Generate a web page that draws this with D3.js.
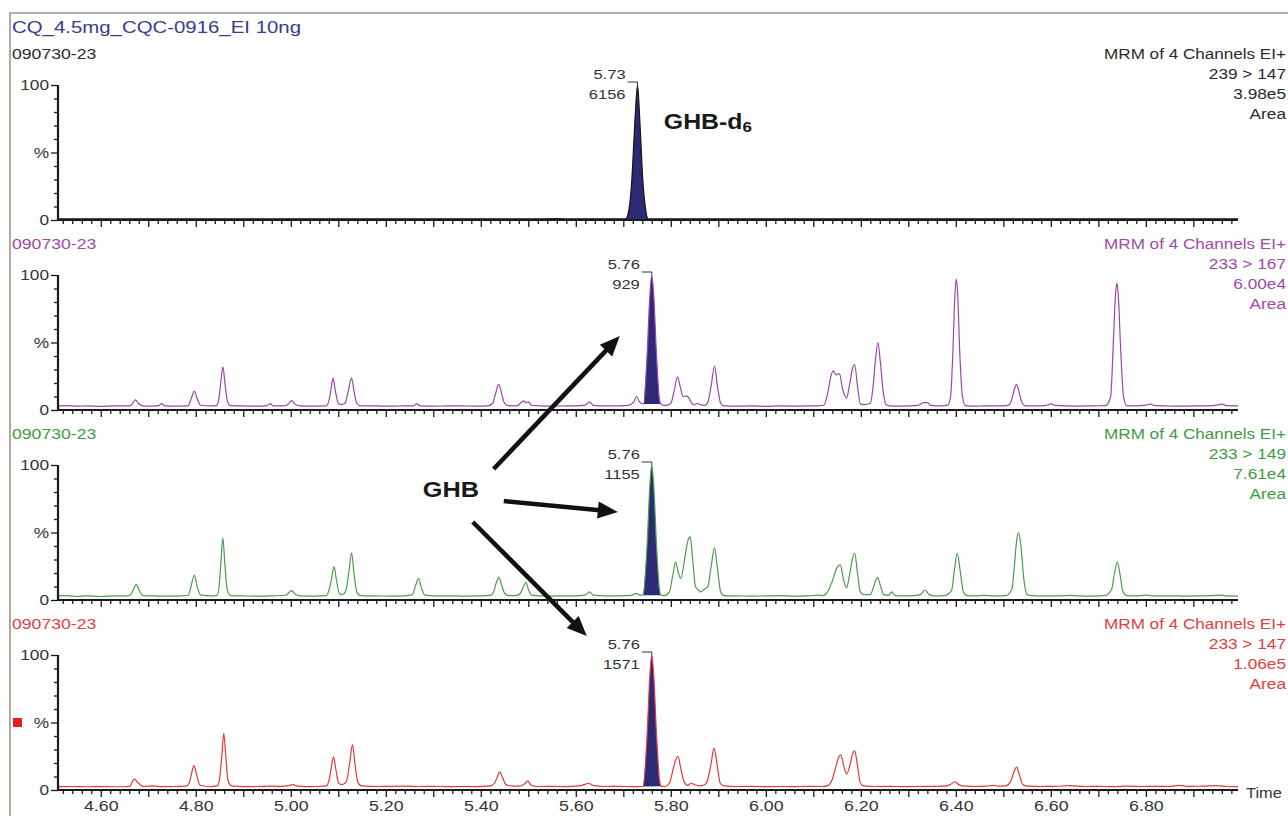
<!DOCTYPE html>
<html><head><meta charset="utf-8">
<script src="https://cdn.jsdelivr.net/npm/d3@7"></script>
<style>
html,body{margin:0;padding:0;background:#fff;overflow:hidden}
svg{display:block;font-family:"Liberation Sans",Arial,sans-serif}
</style></head><body>
<svg id="chart" width="1288" height="816"></svg>
<script>
// ---------------- DATA ----------------
const title = "CQ_4.5mg_CQC-0916_EI 10ng";
const sampleIds = ["090730-23", "090730-23", "090730-23", "090730-23"];
const scanTypes = ["MRM of 4 Channels EI+", "MRM of 4 Channels EI+", "MRM of 4 Channels EI+", "MRM of 4 Channels EI+"];
const transitions = ["239 > 147", "233 > 167", "233 > 149", "233 > 147"];
const intensities = ["3.98e5", "6.00e4", "7.61e4", "1.06e5"];
const measureLabels = ["Area", "Area", "Area", "Area"];
const peakTimes = [5.73, 5.76, 5.76, 5.76];
const peakAreas = [6156, 929, 1155, 1571];
const peakRanges = [[5.705, 5.752], [5.743, 5.779], [5.742, 5.779], [5.742, 5.779]];
const timeDomain = [4.51, 6.994];
const yTickMajor = [0, 50, 100];
const yTickMinor = [10, 20, 30, 40, 60, 70, 80, 90];
const yTickLabels = {0: "0", 50: "%", 100: "100"};
const xAxisTitle = "Time";
const compoundLabels = ["GHB-d", "6", "GHB"];

// trace 1: 239 > 147 (GHB-d6), [time (min), relative intensity %]
const trace239_147 = [
  [4.510,0.8],[4.60,0.8],[4.70,0.9],[4.80,0.8],[4.90,0.8],[5.00,0.9],[5.10,0.8],[5.20,0.8],
  [5.30,0.9],[5.40,0.8],[5.50,0.8],[5.56,1.0],[5.60,0.8],[5.65,0.9],[5.70,0.8],
  [5.705,0.8],[5.712,8],[5.718,30],[5.724,70],[5.730,100],[5.735,72],[5.741,30],[5.747,8],[5.752,0.8],
  [5.80,0.8],[5.90,0.9],[6.00,0.8],[6.10,0.8],[6.20,0.9],[6.30,0.8],[6.40,0.8],[6.50,0.9],
  [6.60,0.8],[6.70,0.8],[6.80,0.9],[6.90,0.8],[6.994,0.8]
];
// trace 2: 233 > 167
const trace233_167 = [
  [4.510,3],[4.53,3.2],[4.55,2.8],[4.57,3.1],[4.60,2.7],[4.63,3.0],[4.655,3.0],
  [4.662,3.2],[4.668,5.5],[4.673,7.5],[4.679,5],[4.686,3.2],
  [4.70,2.8],[4.715,3.0],[4.722,3.2],[4.728,4.7],[4.735,3.1],[4.76,2.9],[4.78,3.1],
  [4.784,3.2],[4.79,8],[4.797,14],[4.803,8.5],[4.81,3.5],[4.83,3.0],[4.843,3.2],
  [4.848,7],[4.852,18],[4.857,32],[4.862,18],[4.867,6],[4.873,3.2],
  [4.90,3.0],[4.93,2.8],[4.95,3.2],[4.957,4.7],[4.963,3.0],[4.985,3.0],
  [4.995,4.5],[5.002,7],[5.009,4.2],[5.02,3.0],[5.05,2.9],[5.075,3.1],
  [5.081,8],[5.085,16],[5.089,23.6],[5.094,14],[5.10,5],[5.106,4],
  [5.114,5],[5.121,14],[5.128,23.6],[5.133,14],[5.139,5],[5.147,3.1],
  [5.18,3.0],[5.21,2.8],[5.24,3.1],[5.258,3.0],[5.265,4.7],[5.272,3.1],[5.30,2.9],[5.33,3.0],
  [5.36,3.1],[5.39,2.8],[5.415,3.0],
  [5.425,5],[5.431,12],[5.438,19],[5.444,12],[5.45,5],[5.458,3.2],
  [5.475,3.0],[5.485,5.5],[5.49,6.7],[5.495,5.5],[5.50,6],[5.507,3.5],[5.525,3.0],[5.55,2.8],
  [5.58,3.1],[5.60,3.0],[5.62,3.6],[5.629,6],[5.637,3.4],[5.66,3.0],[5.69,3.1],[5.71,3.4],
  [5.722,6],[5.728,10],[5.734,6],[5.739,4.8],
  [5.743,4.5],[5.750,40],[5.756,85],[5.760,100],[5.764,85],[5.770,40],[5.776,8],[5.779,4.5],
  [5.785,3.5],[5.79,3.5],[5.80,5],[5.807,14],[5.814,24.6],[5.820,17],[5.826,10],[5.833,10.4],
  [5.838,9],[5.844,5],[5.848,3.7],[5.856,5],[5.862,4],[5.872,3.5],
  [5.878,6],[5.885,18],[5.892,32.6],[5.898,18],[5.905,5],[5.912,3.0],
  [5.94,2.8],[5.97,3.0],[6.00,2.7],[6.03,3.0],[6.06,2.9],[6.09,3.0],[6.11,3.1],
  [6.122,3.5],[6.130,12],[6.137,25],[6.142,29],[6.148,26],[6.155,27],[6.162,15],[6.170,9],
  [6.176,18],[6.182,30],[6.187,33.6],[6.193,18],[6.199,4.5],[6.206,4],
  [6.220,5],[6.226,18],[6.231,38],[6.236,50],[6.241,36],[6.247,14],[6.253,4],[6.26,3.0],
  [6.28,2.8],[6.30,3.0],[6.32,3.4],[6.333,5.5],[6.340,5.5],[6.347,3.4],[6.37,3.0],[6.383,3.6],
  [6.389,10],[6.394,45],[6.398,85],[6.401,97],[6.404,85],[6.408,45],[6.414,10],[6.42,3.2],
  [6.44,2.8],[6.46,3.1],[6.48,3.0],[6.50,3.0],[6.513,4],
  [6.518,8],[6.523,15],[6.528,19],[6.534,12],[6.540,5],[6.547,3.1],
  [6.57,3.0],[6.59,3.4],[6.60,4.5],[6.61,3.4],[6.63,3.0],[6.66,2.9],[6.69,3.1],[6.715,3.2],
  [6.726,10],[6.731,45],[6.736,85],[6.739,94],[6.742,85],[6.747,45],[6.753,10],[6.76,3.2],
  [6.78,3.0],[6.80,3.6],[6.81,4.3],[6.82,3.2],[6.84,3.0],[6.87,2.8],[6.90,3.0],[6.93,3.1],
  [6.95,3.6],[6.96,4.4],[6.97,3.2],[6.994,3.0]
];
// trace 3: 233 > 149
const trace233_149 = [
  [4.510,3],[4.53,3.2],[4.55,2.6],[4.57,3.0],[4.60,2.6],[4.63,3.0],[4.655,3.1],
  [4.662,3.5],[4.669,8],[4.675,11.6],[4.681,7],[4.689,3.3],
  [4.71,3.0],[4.74,2.8],[4.77,3.1],[4.784,3.5],
  [4.79,10],[4.797,18.5],[4.803,10],[4.81,3.8],[4.83,3.0],[4.845,3.4],
  [4.849,10],[4.853,28],[4.857,46],[4.861,28],[4.866,8],[4.873,3.3],
  [4.90,3.0],[4.93,2.9],[4.96,3.1],[4.99,3.5],
  [4.996,5.5],[5.002,7],[5.009,4.5],[5.02,3.0],[5.05,2.9],[5.075,3.2],
  [5.081,8],[5.086,16],[5.091,24.7],[5.096,15],[5.102,5],[5.108,4],
  [5.115,6],[5.122,20],[5.128,35],[5.133,20],[5.139,6],[5.147,3.2],
  [5.18,3.0],[5.21,2.9],[5.24,3.1],[5.256,4],[5.263,11],[5.269,15.8],[5.275,9],[5.282,3.8],
  [5.30,3.0],[5.33,3.1],[5.36,2.9],[5.39,3.0],[5.42,3.4],
  [5.427,6],[5.432,12],[5.438,16.8],[5.444,11],[5.45,5],[5.458,3.3],[5.475,3.2],[5.485,6],
  [5.49,10],[5.495,13],[5.50,8],[5.507,3.6],[5.525,3.0],[5.55,2.9],[5.58,3.1],[5.60,3.0],
  [5.62,3.8],[5.629,6],[5.637,3.6],[5.66,3.0],[5.69,3.1],[5.715,3.4],[5.728,4.9],[5.735,3.6],
  [5.742,3.6],[5.750,40],[5.756,85],[5.760,100],[5.764,85],[5.770,40],[5.776,8],[5.779,3.6],
  [5.788,3.4],[5.797,6],[5.804,18],[5.810,28],[5.816,20],[5.821,16],[5.829,30],[5.836,44],
  [5.841,46.7],[5.846,30],[5.852,10],[5.858,7.4],[5.863,6],[5.870,8],
  [5.878,10],[5.885,25],[5.892,38.8],[5.898,24],[5.905,6],[5.912,3.2],
  [5.94,3.0],[5.97,2.9],[6.00,3.0],[6.03,3.2],[6.06,2.9],[6.09,3.1],[6.11,3.6],[6.12,3.2],
  [6.130,6],[6.140,14],[6.150,24],[6.157,26],[6.163,16],[6.170,9],[6.176,18],[6.182,30],
  [6.187,34.8],[6.193,20],[6.199,6],[6.206,4],
  [6.220,4],[6.228,11],[6.235,16.8],[6.241,11],[6.248,4],[6.258,3.5],[6.265,6],[6.272,3.2],
  [6.29,3.0],[6.31,3.2],[6.325,4],[6.335,7.4],[6.344,4],[6.355,3.0],[6.375,3.2],
  [6.391,7],[6.397,22],[6.403,34.8],[6.409,22],[6.416,6],[6.424,3.2],
  [6.44,3.0],[6.46,3.4],[6.48,3.0],[6.505,3.2],
  [6.518,8],[6.524,28],[6.528,44],[6.532,50],[6.537,40],[6.543,16],[6.550,4],[6.56,3.2],
  [6.58,3.0],[6.60,3.1],[6.62,3.0],[6.64,3.5],[6.66,3.0],[6.69,2.9],[6.715,3.4],
  [6.728,8],[6.734,20],[6.740,28],[6.746,18],[6.752,6],[6.76,3.3],
  [6.78,3.0],[6.80,3.6],[6.82,3.0],[6.85,3.1],[6.88,2.9],[6.91,3.0],[6.94,3.3],[6.96,3.6],
  [6.97,3.0],[6.994,2.9]
];
// trace 4: 233 > 147
const trace233_147 = [
  [4.510,2.5],[4.54,2.6],[4.57,2.4],[4.60,2.5],[4.63,2.4],[4.655,2.6],
  [4.662,3],[4.667,6.5],[4.671,8],[4.677,6],[4.684,3.5],[4.69,2.6],[4.71,3.0],[4.73,2.5],
  [4.76,2.6],[4.78,2.8],
  [4.786,5],[4.791,12],[4.796,18],[4.802,11],[4.809,3.5],[4.83,2.6],[4.845,3.0],
  [4.85,8],[4.855,26],[4.859,42],[4.863,26],[4.868,7],[4.875,3],
  [4.90,2.5],[4.93,2.6],[4.96,2.8],[4.98,2.7],[4.995,3.2],[5.005,4],[5.012,3.0],[5.03,2.5],
  [5.06,2.6],[5.075,3],
  [5.081,8],[5.085,16],[5.09,24.6],[5.095,15],[5.101,5],[5.108,4],
  [5.117,6],[5.124,20],[5.13,33.6],[5.135,20],[5.141,6],[5.149,3],
  [5.18,2.6],[5.21,2.7],[5.24,2.8],[5.27,2.6],[5.30,2.7],[5.33,2.5],[5.36,2.6],[5.39,2.5],[5.42,3],
  [5.429,5],[5.435,10],[5.44,13.4],[5.446,9],[5.453,4],[5.465,3],[5.48,2.8],
  [5.492,4.5],[5.499,6.7],[5.506,3.5],[5.52,2.6],[5.55,2.7],[5.58,2.5],[5.605,3],[5.618,4],
  [5.627,5],[5.636,3.4],[5.66,2.6],[5.69,2.7],[5.72,2.5],[5.737,2.6],
  [5.742,2.6],[5.750,40],[5.756,85],[5.760,100],[5.764,85],[5.770,40],[5.776,8],[5.779,2.8],
  [5.788,2.6],[5.797,5],[5.804,14],[5.810,22],[5.815,25],[5.821,16],[5.828,6],[5.836,3.5],
  [5.843,5],[5.85,4],[5.862,3],[5.872,4],
  [5.878,8],[5.885,20],[5.891,31],[5.897,20],[5.904,5],[5.912,3],
  [5.94,2.6],[5.97,2.7],[6.00,2.5],[6.03,2.6],[6.06,2.5],[6.09,2.7],[6.12,2.6],[6.13,3.2],
  [6.140,8],[6.148,18],[6.153,24],[6.158,26],[6.164,18],[6.170,12],[6.177,18],[6.182,26],
  [6.187,29],[6.193,18],[6.199,5],[6.207,3],
  [6.23,2.6],[6.26,2.7],[6.29,2.5],[6.32,2.6],[6.35,2.7],[6.375,2.8],[6.388,4],[6.398,6],
  [6.407,3.8],[6.42,2.8],[6.44,2.6],[6.465,2.8],[6.48,3.5],[6.49,2.8],[6.505,3],
  [6.515,6],[6.522,13],[6.528,17],[6.534,11],[6.541,4],[6.55,2.8],
  [6.58,2.6],[6.61,2.7],[6.64,3.2],[6.67,2.6],[6.70,2.7],[6.73,2.5],[6.76,2.8],[6.79,2.6],
  [6.82,2.7],[6.85,2.6],[6.87,3.5],[6.89,2.7],[6.92,2.8],[6.95,3.2],[6.97,2.6],[6.994,2.5]
];
const traces = [trace239_147, trace233_167, trace233_149, trace233_147];

// ---------------- STYLE / LAYOUT ----------------
const traceColors = ["#151515", "#9c44aa", "#4a9d4a", "#e23838"];
const textColors = ["#2a2a2a", "#a04aa8", "#3f9a3f", "#e04040"];
const peakFill = "#2c2a74";
const axisColor = "#1a1a1a";
const W = 1288, H = 816;
const axisLeft = 58, axisRight = 1238;
const panelBottom0 = 220, panelStep = 190, panelHeight = 135;
const SX = 1.22;
const rightEdge = 1286;

const svg = d3.select("#chart");
svg.append("rect").attr("width", W).attr("height", H).attr("fill", "#fff");

// frame
svg.append("path").attr("d", `M10,${H}V13H${W}`).attr("fill", "none")
  .attr("stroke", "#9e9686").attr("stroke-width", 1.6);

function stext(sel, x, y, s, o = {}) {
  return sel.append("text")
    .attr("transform", `translate(${x},${y}) scale(${o.sx || SX},1)`)
    .attr("text-anchor", o.anchor || "start")
    .attr("font-size", o.size || 14)
    .attr("font-weight", o.weight || "normal")
    .attr("fill", o.fill || "#222")
    .text(s);
}

stext(svg, 12, 33, title, {size: 17, fill: "#3b3b8e", sx: 1.2});

const x = d3.scaleLinear().domain(timeDomain).range([axisLeft, axisRight]);
const majorX = d3.range(46, 70).map(k => k / 10);
const minorX = d3.range(226, 350).filter(k => k % 5 !== 0).map(k => k / 50);
const yScales = [];

traces.forEach((data, i) => {
  const yB = panelBottom0 + i * panelStep;
  const y = d3.scaleLinear().domain([0, 100]).range([yB, yB - panelHeight]);
  yScales.push(y);
  const g = svg.append("g");

  // header texts
  stext(g, 12, yB - 161.5, sampleIds[i], {size: 14, fill: textColors[i], sx: 1.26});
  stext(g, rightEdge, yB - 161.5, scanTypes[i], {size: 15, fill: textColors[i], anchor: "end", sx: 1.14});
  stext(g, rightEdge, yB - 141.5, transitions[i], {size: 15, fill: textColors[i], anchor: "end", sx: 1.15});
  stext(g, rightEdge, yB - 121.5, intensities[i], {size: 15, fill: textColors[i], anchor: "end", sx: 1.15});
  stext(g, rightEdge, yB - 101.5, measureLabels[i], {size: 15, fill: textColors[i], anchor: "end", sx: 1.15});

  // integrated peak fill
  const line = d3.line().x(d => x(d[0])).y(d => y(d[1])).curve(d3.curveMonotoneX);
  const [a, b] = peakRanges[i];
  const peakPts = data.filter(d => d[0] >= a - 1e-9 && d[0] <= b + 1e-9);
  g.append("path").attr("d", line(peakPts) + "Z").attr("fill", peakFill).attr("stroke", "none");

  // trace
  g.append("path").attr("d", line(data)).attr("fill", "none")
    .attr("stroke", traceColors[i]).attr("stroke-width", 1.2).attr("stroke-linejoin", "round");

  // x axis (minor + major ticks)
  const gx = g.append("g").attr("transform", `translate(0,${yB})`);
  gx.append("g").call(d3.axisBottom(x).tickValues(minorX).tickSize(4).tickSizeOuter(0).tickFormat(""))
    .call(s => s.select(".domain").remove());
  const isBottom = i === traces.length - 1;
  const maj = gx.append("g").call(d3.axisBottom(x).tickValues(majorX).tickSize(7).tickSizeOuter(0).tickPadding(4)
    .tickFormat(d => (isBottom && Math.round(d * 10) % 2 === 0) ? d3.format(".2f")(d) : ""));
  maj.select(".domain").remove();
  maj.selectAll("text").attr("font-size", 14).attr("fill", "#333").attr("font-family", "Liberation Sans, Arial, sans-serif")
    .attr("transform", `scale(1.27,1)`);
  gx.selectAll(".tick line").attr("stroke", axisColor).attr("stroke-width", 1.3);
  gx.append("line").attr("x1", axisLeft - 1).attr("x2", axisRight).attr("y1", 0).attr("y2", 0)
    .attr("stroke", axisColor).attr("stroke-width", 2.2);

  // y axis
  const gy = g.append("g").attr("transform", `translate(${axisLeft},0)`);
  gy.append("g").call(d3.axisLeft(y).tickValues(yTickMinor).tickSize(4).tickSizeOuter(0).tickFormat(""))
    .call(s => s.select(".domain").remove());
  const ym = gy.append("g").call(d3.axisLeft(y).tickValues(yTickMajor).tickSize(7).tickSizeOuter(0).tickPadding(2)
    .tickFormat(d => yTickLabels[d]));
  ym.select(".domain").remove();
  ym.selectAll("text").attr("font-size", 15).attr("fill", "#333").attr("font-family", "Liberation Sans, Arial, sans-serif")
    .attr("x", -9 / 1.15).attr("transform", "scale(1.15,1)");
  gy.selectAll(".tick line").attr("stroke", axisColor).attr("stroke-width", 1.3);
  gy.append("line").attr("x1", 0).attr("x2", 0).attr("y1", y(100)).attr("y2", yB + 1)
    .attr("stroke", axisColor).attr("stroke-width", 2.2);

  // peak label (retention time / area)
  const px = x(peakTimes[i]), pt = y(100);
  g.append("path").attr("d", `M${px - 10},${pt - 3}H${px}V${pt}`).attr("fill", "none")
    .attr("stroke", "#333").attr("stroke-width", 1);
  stext(g, px - 12, pt - 6, d3.format(".2f")(peakTimes[i]), {size: 13, anchor: "end", fill: "#333", sx: 1.27});
  stext(g, px - 12, pt + 14, String(peakAreas[i]), {size: 13, anchor: "end", fill: "#333", sx: 1.27});
});

// x axis title
stext(svg, 1246, 798, xAxisTitle, {size: 14, fill: "#333", sx: 1.17});

// red marker square
svg.append("rect").attr("x", 13).attr("y", yScales[3](50) - 4.5).attr("width", 9).attr("height", 9).attr("fill", "#e0201e");

// annotations
const P = (t, panel, v) => [x(t), yScales[panel](v)];
const ann = svg.append("g");
const d6 = ann.append("text")
  .attr("transform", (() => { const p = P(5.7853, 0, 67.4); return `translate(${p[0]},${p[1]}) scale(1.13,1)`; })())
  .attr("font-size", 22).attr("font-weight", "bold").attr("fill", "#1a1a1a");
d6.append("tspan").text(compoundLabels[0]);
d6.append("tspan").attr("font-size", 15).attr("dy", 3).text(compoundLabels[1]);
(() => { const p = P(5.278, 2, 76.3); stext(ann, p[0], p[1], compoundLabels[2], {size: 22, weight: "bold", fill: "#1a1a1a", sx: 1.15}); })();

const arrowSpecs = [
  {from: [5.427, 2, 97], to: [5.6926, 1, 54.8]},
  {from: [5.4484, 2, 73.3], to: [5.6884, 2, 65.2]},
  {from: [5.3832, 2, 57.8], to: [5.6232, 3, 114]}
];
arrowSpecs.forEach(s => {
  const [x1, y1] = P(...s.from), [x2, y2] = P(...s.to);
  const dx = x2 - x1, dy = y2 - y1, L = Math.hypot(dx, dy), ux = dx / L, uy = dy / L;
  const hl = 20, hw = 8.5, bx = x2 - ux * hl, by = y2 - uy * hl;
  ann.append("line").attr("x1", x1).attr("y1", y1).attr("x2", bx + ux * 2).attr("y2", by + uy * 2)
    .attr("stroke", "#111").attr("stroke-width", 4.5);
  ann.append("path").attr("d", `M${x2},${y2}L${bx - uy * hw},${by + ux * hw}L${bx + uy * hw},${by - ux * hw}Z`)
    .attr("fill", "#111");
});
</script>
</body></html>
